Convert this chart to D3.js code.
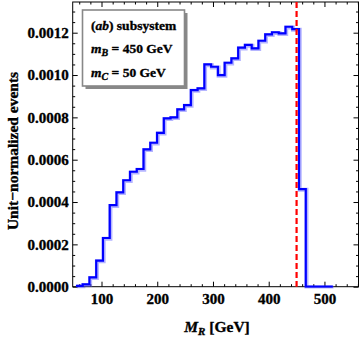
<!DOCTYPE html>
<html><head><meta charset="utf-8">
<script src="https://cdn.jsdelivr.net/npm/d3@7"></script>
<style>
body{margin:0;background:#fff;}
svg text{font-family:"Liberation Serif","Times New Roman",serif !important;font-weight:700 !important;fill:#000;stroke:#000;stroke-width:0.35px;}
</style></head>
<body><svg id="c" width="360" height="337"></svg>
<script>
// ---- data ----
const binStart = 54.1;      // GeV, first bin edge
const binWidth = 12.13;     // GeV
const binValues = [0.000004,0.000011,0.000044,0.000123,0.00023,0.000385,0.000446,0.000503,
  0.000543,0.000556,0.000649,0.00068,0.000727,0.000795,0.0008,0.000838,0.000858,0.000929,
  0.000937,0.00105,0.001039,0.001,0.001058,0.001079,0.001129,0.001142,0.001126,0.001162,
  0.001192,0.001202,0.001197,0.001228,0.001217,0.000461,0,0,0,0];
const xTicks = [100,200,300,400,500];
const yTicks = [0,0.0002,0.0004,0.0006,0.0008,0.0010,0.0012];
const mBline = 450;
const legendLines = ["(ab) subsystem","m_B = 450 GeV","m_C = 50 GeV"];

// ---- scales ----
const svg = d3.select("#c");
const L=72.7,R=359,T=2,B=286.7;
const x = d3.scaleLinear().domain([48.3,562]).range([L,R]);
const y = d3.scaleLinear().domain([0,0.001345]).range([B,T]);

// frame
svg.append("rect").attr("x",L).attr("y",T).attr("width",R-L-0.5).attr("height",B-T)
  .attr("fill","none").attr("stroke","#000").attr("stroke-width",1);

const xMinor = d3.range(60,562,20).filter(v=>!xTicks.includes(v));
const yMinor = d3.range(0,0.00134,0.00005).filter(v=>!yTicks.some(t=>Math.abs(t-v)<1e-9));

function styleAxis(g){g.select(".domain").remove();g.selectAll("line").attr("stroke","#000");
  g.attr("font-family",null).attr("font-size",null);}
// bottom
svg.append("g").attr("transform",`translate(0,${B})`)
  .call(d3.axisBottom(x).tickValues(xTicks).tickSize(-5).tickPadding(7).tickFormat(d3.format("d")))
  .call(styleAxis).selectAll("text").style("font-size","15px");
svg.append("g").attr("transform",`translate(0,${B})`)
  .call(d3.axisBottom(x).tickValues(xMinor).tickSize(-2.5).tickFormat(""))
  .call(styleAxis);
// top
svg.append("g").attr("transform",`translate(0,${T})`)
  .call(d3.axisTop(x).tickValues(xTicks).tickSize(-5).tickFormat("")).call(styleAxis);
svg.append("g").attr("transform",`translate(0,${T})`)
  .call(d3.axisTop(x).tickValues(xMinor).tickSize(-2.5).tickFormat("")).call(styleAxis);
// left
svg.append("g").attr("transform",`translate(${L},0)`)
  .call(d3.axisLeft(y).tickValues(yTicks).tickSize(-5).tickPadding(4).tickFormat(d3.format(".4f")))
  .call(styleAxis).selectAll("text").style("font-size","15px");
svg.append("g").attr("transform",`translate(${L},0)`)
  .call(d3.axisLeft(y).tickValues(yMinor).tickSize(-2.5).tickFormat("")).call(styleAxis);
// right
svg.append("g").attr("transform",`translate(${R-0.5},0)`)
  .call(d3.axisRight(y).tickValues(yTicks).tickSize(-5).tickFormat("")).call(styleAxis);
svg.append("g").attr("transform",`translate(${R-0.5},0)`)
  .call(d3.axisRight(y).tickValues(yMinor).tickSize(-2.5).tickFormat("")).call(styleAxis);

// histogram (stepped)
const pts = binValues.map((v,i)=>[binStart+i*binWidth,v]);
pts.push([binStart+binValues.length*binWidth, binValues[binValues.length-1]]);
const line = d3.line().x(d=>x(d[0])).y(d=>y(d[1])).curve(d3.curveStepAfter);
svg.append("clipPath").attr("id","pc").append("rect")
  .attr("x",L).attr("y",T).attr("width",R-L).attr("height",B-T+1);
svg.append("path").attr("d",line(pts)).attr("fill","none")
  .attr("stroke","rgba(90,90,255,0.45)").attr("stroke-width",4).attr("transform","translate(0.7,0.7)")
  .attr("clip-path","url(#pc)");
svg.append("path").attr("d",line(pts)).attr("fill","none")
  .attr("stroke","#0000ff").attr("stroke-width",2.2).attr("clip-path","url(#pc)");

// red dashed line
svg.append("line").attr("x1",x(mBline)).attr("x2",x(mBline)).attr("y1",T).attr("y2",B)
  .attr("stroke","#ff0000").attr("stroke-width",2.2).attr("stroke-dasharray","6,3");

// legend
const lg = svg.append("g");
lg.append("rect").attr("x",85.5).attr("y",13).attr("width",102).attr("height",76).attr("fill","#888");
lg.append("rect").attr("x",82.5).attr("y",10).attr("width",102).attr("height",76)
  .attr("fill","#fff").attr("stroke","#888").attr("stroke-width",1.6);
const lt = lg.append("g").style("font-size","13.5px");
const t1 = lt.append("text").attr("x",91).attr("y",29.5);
t1.append("tspan").text("(");
t1.append("tspan").style("font-style","italic").text("ab");
t1.append("tspan").text(") subsystem");
legendLines.slice(1).forEach((s,i)=>{
  const [lhs,rhs] = s.split(" = ");
  const [m,sub] = lhs.split("_");
  const t = lt.append("text").attr("x",91).attr("y",53+i*23.5);
  t.append("tspan").style("font-style","italic").text(m);
  t.append("tspan").style("font-style","italic").attr("dy",3).style("font-size","10px").text(sub);
  t.append("tspan").attr("dy",-3).text(" = "+rhs);
});

// axis titles
const xt = svg.append("text").attr("x",217).attr("y",332).attr("text-anchor","middle").style("font-size","15.5px");
xt.append("tspan").style("font-style","italic").text("M");
xt.append("tspan").style("font-style","italic").attr("dy",3).style("font-size","11px").text("R");
xt.append("tspan").attr("dy",-3).text(" [GeV]");
svg.append("text").attr("transform","translate(18,151) rotate(-90)").attr("text-anchor","middle")
  .style("font-size","15.5px").text("Unit\u2212normalized events");
</script></body></html>
